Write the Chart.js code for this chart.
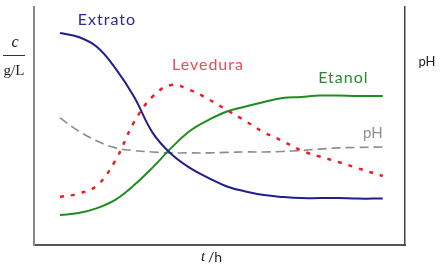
<!DOCTYPE html>
<html>
<head>
<meta charset="utf-8">
<script src="https://cdn.jsdelivr.net/npm/chart.js@4"></script>
<style>
  html, body { margin: 0; padding: 0; background: #fff; }
  #wrap { width: 445px; height: 274px; }
</style>
</head>
<body>
<div id="wrap"><canvas id="myChart"></canvas></div>
<script>
// time axis (arbitrary units)
const times = [0.7, 1.2, 1.7, 2.2, 2.7, 3.2, 3.7, 4.2, 4.7, 5.2, 5.7, 6.2, 6.7, 7.2, 7.7, 8.2, 8.7, 9.4];

// concentrations / pH (relative units)
const extrato  = [8.91, 8.74, 8.32, 7.41, 6.22, 4.71, 3.82, 3.24, 2.82, 2.46, 2.25, 2.10, 2.02, 1.97, 1.97, 1.97, 1.95, 1.95];
const levedura = [2.02, 2.16, 2.50, 3.57, 5.17, 6.24, 6.72, 6.51, 6.13, 5.67, 5.21, 4.73, 4.37, 3.97, 3.72, 3.49, 3.24, 2.90];
const etanol   = [1.26, 1.34, 1.55, 1.91, 2.52, 3.26, 4.08, 4.79, 5.25, 5.61, 5.82, 6.01, 6.18, 6.22, 6.28, 6.28, 6.26, 6.26];
const ph       = [5.34, 4.79, 4.37, 4.08, 3.97, 3.91, 3.87, 3.87, 3.87, 3.89, 3.91, 3.91, 3.93, 3.97, 4.03, 4.08, 4.10, 4.12];

function toPoints(values) {
    return times.map((t, i) => ({ x: t, y: values[i] }));
}

const blue = '#1f1f8c';
const green = '#1f8c1f';
const red = '#ee1c25';
const grey = '#8c8c8c';

// text labels drawn inside / around the plot
const labelsPlugin = {
    id: 'labels',
    afterDraw(chart) {
        const ctx = chart.ctx;
        const xs = chart.scales.x;
        const ys = chart.scales.y;
        ctx.save();
        ctx.textBaseline = 'middle';
        ctx.textAlign = 'left';

        // curve names, placed in data coordinates
        ctx.font = '16px Lato';
        ctx.letterSpacing = '1px';
        ctx.fillStyle = '#2b2b8f';
        ctx.fillText('Extrato', xs.getPixelForValue(1.18), ys.getPixelForValue(9.45));
        ctx.fillStyle = '#ec4a55';
        ctx.fillText('Levedura', xs.getPixelForValue(3.72), ys.getPixelForValue(7.56));
        ctx.fillStyle = '#2a8a2a';
        ctx.fillText('Etanol', xs.getPixelForValue(7.66), ys.getPixelForValue(7.02));
        ctx.letterSpacing = '0px';
        ctx.font = '15px Lato';
        ctx.fillStyle = '#8f8f8f';
        ctx.fillText('pH', xs.getPixelForValue(8.87), ys.getPixelForValue(4.7));

        // axis captions
        ctx.fillStyle = '#222';
        ctx.textAlign = 'center';
        ctx.font = 'italic 16px "Liberation Serif"';
        ctx.fillText('c', 15, 43);
        ctx.font = '15px "Liberation Serif"';
        ctx.fillText('g/L', 14, 71);
        ctx.strokeStyle = '#333';
        ctx.lineWidth = 1;
        ctx.beginPath();
        ctx.moveTo(3, 55.5);
        ctx.lineTo(25, 55.5);
        ctx.stroke();

        ctx.font = '13px Lato';
        ctx.fillText('pH', 427, 62);

        ctx.textAlign = 'left';
        ctx.font = 'italic 15px "Liberation Serif"';
        ctx.fillText('t', 201, 257);
        ctx.font = '14px Lato';
        ctx.fillText('/h', 208, 257);
        ctx.restore();
    }
};

const data = {
    datasets: [
      {
        label: 'Extrato',
        data: toPoints(extrato),
        borderColor: blue,
        borderWidth: 2,
      },
      {
        label: 'Levedura',
        data: toPoints(levedura),
        borderColor: red,
        borderWidth: 2.5,
        borderDash: [4, 7],
      },
      {
        label: 'Etanol',
        data: toPoints(etanol),
        borderColor: green,
        borderWidth: 2,
      },
      {
        label: 'pH',
        data: toPoints(ph),
        borderColor: grey,
        borderWidth: 1.6,
        borderDash: [9, 5],
      },
    ]
};

const hiddenTicks = { display: false };
const noGrid = { display: false, drawTicks: false };

const config = {
    type: 'line',
    data: data,
    options: {
        responsive: true,
        maintainAspectRatio: false,
        animation: false,
        layout: { padding: { left: 34, right: 40, top: 7, bottom: 29 } },
        elements: {
            point: { radius: 0 },
            line: { tension: 0.4, fill: false },
        },
        plugins: {
            legend: { display: false },
            tooltip: { enabled: false },
        },
        scales: {
            x: {
                type: 'linear', min: 0, max: 10,
                ticks: hiddenTicks, grid: noGrid,
                border: { display: true, color: '#555', width: 2 },
            },
            y: {
                type: 'linear', min: 0, max: 10,
                ticks: hiddenTicks, grid: noGrid,
                border: { display: true, color: '#888', width: 2 },
            },
            y2: {
                type: 'linear', position: 'right', min: 0, max: 10,
                ticks: hiddenTicks, grid: noGrid,
                border: { display: true, color: '#444', width: 1.5 },
            },
        }
    },
    plugins: [labelsPlugin],
};

const myChart = new Chart(
    document.getElementById('myChart'),
    config
);
</script>
</body>
</html>
